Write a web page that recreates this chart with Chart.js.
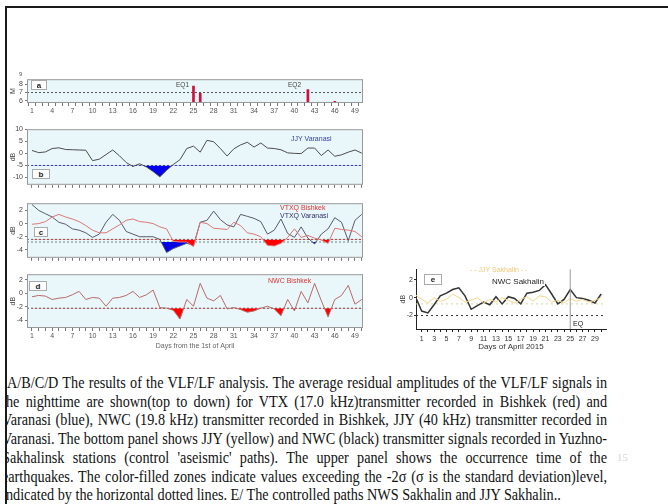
<!DOCTYPE html>
<html><head><meta charset="utf-8">
<script src="https://cdn.jsdelivr.net/npm/chart.js@4.4.0/dist/chart.umd.min.js"></script>
<style>
html,body{margin:0;padding:0;background:#fff;width:668px;height:504px;overflow:hidden;}
#page{position:relative;width:668px;height:504px;overflow:hidden;}
canvas{position:absolute;}
.frame{position:absolute;left:5px;top:6px;width:663px;height:498px;border-left:2px solid #1a1a1a;border-top:2px solid #1a1a1a;box-sizing:border-box;pointer-events:none;}
.lbl{position:absolute;font-family:"Liberation Sans",Arial,sans-serif;white-space:nowrap;line-height:1;}
.plet{position:absolute;background:#fff;border:1px solid #aaa;font:bold 8px "Liberation Sans",Arial,sans-serif;color:#222;text-align:center;line-height:9px;}
#capClip{position:absolute;left:7px;top:370px;width:661px;height:134px;overflow:hidden;}
#capInner{position:absolute;left:-5px;top:0;transform-origin:0 0;}
.cl{position:absolute;left:0;font-family:"Liberation Serif","Times New Roman",serif;font-size:16px;line-height:18px;color:#111;white-space:nowrap;}
</style></head>
<body><div id="page">
<div class="frame"></div>
<div id="capClip"><div id="capInner"></div></div>
</div>
<script>
// ---------------- data ----------------
const days = [1,2,3,4,5,6,7,8,9,10,11,12,13,14,15,16,17,18,19,20,21,22,23,24,25,26,27,28,29,30,31,32,33,34,35,36,37,38,39,40,41,42,43,44,45,46,47,48,49,50];
const tickDaysAD = [1,4,7,10,13,16,19,22,25,28,31,34,37,40,43,46,49];
const eqDays = [25, 26, 42, 46];
const eqMag  = [7.8, 6.9, 7.35, 5.9];
const jjyVaranasi = [1.2,0.3,0.6,2.0,2.3,1.6,1.5,1.4,1.3,-3.0,-2.4,-0.5,1.4,-1.0,-3.8,-5.4,-4.3,-5.6,-7.5,-9.7,-7.0,-4.6,-2.6,2.0,3.0,0.5,5.4,4.8,2.0,-1.1,1.9,3.5,4.6,2.6,4.3,2.2,2.0,1.5,0.2,0.0,-0.1,2.2,2.2,-0.9,1.4,-1.2,-0.6,0.5,1.4,0.1];
const vtxVaranasi = [2.9,2.0,1.5,1.0,0.2,-0.1,-0.8,-1.0,-1.4,-2.1,-1.6,0.2,1.4,0.5,-1.2,-1.6,-2.0,-2.0,-2.0,-2.4,-4.4,-3.8,-3.4,-3.0,-3.3,0.2,0.5,1.9,0.6,-0.2,-0.5,1.4,1.1,0.8,0.3,-1.6,-1.0,0.7,-1.5,-2.1,-0.5,-2.2,-3.1,-1.6,-0.8,0.9,0.2,-2.6,0.5,1.4];
const vtxBishkek  = [-0.1,0.0,0.3,1.0,1.4,1.0,0.7,0.3,-0.3,-1.0,-1.4,-1.4,-0.8,-0.2,0.5,0.7,0.3,0.2,0.0,-0.5,-0.8,-2.7,-2.8,-2.8,-3.5,0.2,0.0,-0.7,-0.8,-0.9,0.2,-0.3,-1.4,-1.6,-2.0,-3.3,-3.4,-3.0,-2.1,-0.8,-2.1,-1.8,-2.2,-2.5,-3.0,-0.7,-0.9,-1.0,-1.2,-2.0];
const nwcBishkek  = [-0.5,-0.3,-0.4,-0.9,-0.7,-0.6,-0.2,0.3,-0.9,-0.6,-0.7,-1.9,-0.7,-0.6,-0.3,0.3,-0.6,-0.2,0.5,-2.1,-2.2,-2.5,-3.8,-0.9,-1.9,1.5,-0.7,-1.1,-0.3,-2.3,-2.1,-2.4,-2.8,-2.6,-2.2,-1.9,-2.3,-3.3,-0.9,-2.6,0.3,-1.4,1.5,-1.1,-3.5,-0.9,-0.3,1.2,-1.6,-0.9];
const daysE = [0,1,2,3,4,5,6,7,8,9,10,11,12,13,14,15,16,17,18,19,20,21,22,23,24,25,26,27,28,29,30];
const tickDaysE = [1,3,5,7,9,11,13,15,17,19,21,23,25,27,29];
const nwcSakhalin = [0.1,-1.5,-1.7,-0.8,0.2,0.5,0.9,1.1,0.2,-1.3,-0.9,-0.5,-0.8,0.1,-0.7,0.1,-0.1,-0.7,0.5,0.6,0.8,1.45,0.4,-0.7,-0.2,0.9,0.0,-0.1,-0.3,-0.6,0.4];
const jjySakhalin = [0.3,-0.2,-0.6,0.0,-0.4,-0.2,0.4,0.0,-0.5,-0.3,0.0,-0.6,-0.2,-0.5,0.0,-0.3,-0.6,-0.2,0.1,-0.4,0.2,0.1,-0.5,-0.3,-0.6,-0.1,-0.4,-0.2,-0.5,-0.3,0.0];
const eqDayE = 25;
const thrA = 7, thrB = -5, thrCred = -2.4, thrCblue = -2.8, thrD = -2.2, thrE = -2, thrEy = -0.7;
const yTicksA = [6,7,8], yTicksB = [-10,-5,0,5,10], yTicksC = [-4,-2,0,2], yTicksD = [-4,-2,0,2], yTicksE = [-2,0,2];

const capLines = [
"A/B/C/D The results of the VLF/LF analysis. The average residual amplitudes of the VLF/LF signals in",
"the nighttime are shown(top to down) for VTX (17.0 kHz)transmitter recorded in Bishkek (red) and",
"Varanasi (blue), NWC (19.8 kHz) transmitter recorded in Bishkek, JJY (40 kHz) transmitter recorded in",
"Varanasi. The bottom panel shows JJY (yellow) and NWC (black) transmitter signals recorded in Yuzhno-",
"Sakhalinsk stations (control 'aseismic' paths). The upper panel shows the occurrence time of the",
"earthquakes. The color-filled zones indicate values exceeding the -2\u03c3 (\u03c3 is the standard deviation)level,",
"indicated by the horizontal dotted lines. E/ The controlled paths NWS Sakhalin and JJY Sakhalin.."
];

// ---------------- helpers ----------------
const F = "'Liberation Sans', Arial, sans-serif";
const page = document.getElementById('page');
const xy = (xs, ys) => xs.map((x,i)=>({x:x, y:ys[i]}));
function hline(xmin,xmax,v,color,dash){
  return {type:'line',data:[{x:xmin,y:v},{x:xmax,y:v}],borderColor:color,borderWidth:1,borderDash:dash||[2,2],pointRadius:0,fill:false,order:5};
}
function series(xs, ys, color, thr, fillColor, w){
  const d = {type:'line',data:xy(xs,ys),borderColor:color,borderWidth:w||1,pointRadius:0,tension:0,order:1};
  if (thr !== undefined) d.fill = {target:{value:thr},above:'rgba(0,0,0,0)',below:fillColor};
  else d.fill = false;
  return d;
}
function boxPlugin(bg, stroke){
  return {id:'box'+Math.random(),
    beforeDraw(c){const a=c.chartArea,ctx=c.ctx;ctx.save();ctx.fillStyle=bg;ctx.fillRect(a.left,a.top,a.right-a.left,a.bottom-a.top);ctx.restore();},
    afterDraw(c){if(!stroke)return;const a=c.chartArea,ctx=c.ctx;ctx.save();ctx.strokeStyle=stroke;ctx.lineWidth=1;ctx.strokeRect(a.left+0.5,a.top+0.5,a.right-a.left-1,a.bottom-a.top-1);ctx.restore();}
  };
}
function buildChart(o){
  const cv=document.createElement('canvas');
  const W=o.R-o.L+o.yW+o.pr, H=o.B-o.T+o.pt+o.xH;
  cv.width=W; cv.height=H;
  cv.style.left=(o.L-o.yW)+'px'; cv.style.top=(o.T-o.pt)+'px';
  cv.style.width=W+'px'; cv.style.height=H+'px';
  page.appendChild(cv);
  new Chart(cv,{type:'line',data:{datasets:o.datasets},options:{
    responsive:false,animation:false,devicePixelRatio:1,
    layout:{padding:{left:0,right:o.pr,top:o.pt,bottom:0}},
    plugins:{legend:{display:false},tooltip:{enabled:false}},
    scales:{
      x:{type:'linear',min:o.xmin,max:o.xmax,offset:false,
        afterBuildTicks:s=>{s.ticks=o.xTicks.map(v=>({value:v}));},
        afterFit:s=>{s.height=o.xH;},
        grid:{drawOnChartArea:false,drawTicks:true,tickLength:o.tickLen||3,color:o.axisColor||'#777'},
        border:{display:!!o.axisBorder,color:o.axisBorder||'#000',width:1},
        ticks:{autoSkip:false,maxRotation:0,padding:o.xPad||1,font:{size:7,family:F},color:o.tickColor||'#555',
          callback:v=>(o.xLabels&&o.xLabels.includes(v))?String(v):''},
        title:o.xTitle?{display:true,text:o.xTitle,font:{size:o.xTitleSize||7,family:F},color:o.xTitleColor||'#666',padding:{top:0,bottom:0}}:{display:false}
      },
      y:{min:o.ymin,max:o.ymax,
        afterBuildTicks:s=>{s.ticks=o.yTicks.map(v=>({value:v}));},
        afterFit:s=>{s.width=o.yW;},
        grid:{drawOnChartArea:false,tickLength:2,color:o.axisColor||'#777'},
        border:{display:!!o.axisBorder,color:o.axisBorder||'#000',width:1},
        ticks:{font:{size:7,family:F},color:o.tickColor||'#444',padding:o.yPad||2},
        title:{display:true,text:o.yTitle,font:{size:7,family:F},color:'#444',padding:{top:o.yTitlePad||9,bottom:0}}
      }
    }},
    plugins:[boxPlugin(o.bg,o.stroke)]
  });
}

const BG = '#eaf7fa';
const X0 = 0.26, X1 = 50.19;

// panel a
buildChart({L:27,R:363,T:77,B:103,yW:27,pr:3,pt:4,xH:14,xmin:X0,xmax:X1,ymin:5.7,ymax:8.65,
  xTicks:days,xLabels:tickDaysAD,yTicks:yTicksA,yTitle:'M',bg:BG,stroke:'#999',
  datasets:[
    {type:'bar',data:xy(eqDays,eqMag),backgroundColor:'#d0103a',barThickness:2,order:2},
    hline(X0,X1,thrA,'#555')
  ]});
// panel b
buildChart({L:27,R:363,T:127,B:187,yW:27,pr:3,pt:4,xH:4,xmin:X0,xmax:X1,ymin:-13,ymax:10,
  xTicks:days,xLabels:null,yTicks:yTicksB,yTitle:'dB',bg:BG,stroke:'#999',
  datasets:[
    series(days,jjyVaranasi,'#4d4d4d',thrB,'#0000ee'),
    hline(X0,X1,thrB,'#555')
  ]});
// panel c
buildChart({L:27,R:363,T:201,B:260,yW:27,pr:3,pt:4,xH:4,xmin:X0,xmax:X1,ymin:-5.2,ymax:3.1,
  xTicks:days,xLabels:null,yTicks:yTicksC,yTitle:'dB',bg:BG,stroke:'#999',
  datasets:[
    series(days,vtxBishkek,'#de7676',thrCred,'#ff0000'),
    series(days,vtxVaranasi,'#5a5a68',thrCblue,'#0000e6'),
    hline(X0,X1,thrCred,'#666'),
    hline(X0,X1,thrCblue,'#6a8a7a')
  ]});
// panel d
buildChart({L:27,R:363,T:272,B:328,yW:27,pr:3,pt:4,xH:22,xmin:X0,xmax:X1,ymin:-5.14,ymax:2.86,
  xTicks:days,xLabels:tickDaysAD,yTicks:yTicksD,yTitle:'dB',bg:BG,stroke:'#999',
  xTitle:'Days from the 1st of April',
  datasets:[
    series(days,nwcBishkek,'#b86a6a',thrD,'#ff0000'),
    hline(X0,X1,thrD,'#555')
  ]});
// panel e
buildChart({L:416,R:606,T:268,B:329,yW:20,pr:3,pt:4,xH:23,xmin:0.08,xmax:30.78,ymin:-3.5,ymax:3.17,
  xTicks:daysE.filter(d=>d>=1),xLabels:tickDaysE,yTicks:yTicksE,yTitle:'dB',yTitlePad:3,yPad:1,xPad:3,
  bg:'#ffffff',stroke:null,axisBorder:'#222',axisColor:'#222',tickColor:'#333',
  xTitle:'Days of April 2015',xTitleSize:8,xTitleColor:'#333',
  datasets:[
    series(daysE,jjySakhalin,'#f3d68c',undefined,undefined,1),
    hline(0.08,30.78,thrEy,'#d8d8a0',[2,3]),
    series(daysE,nwcSakhalin,'#333333',undefined,undefined,1.5),
    hline(0.08,30.78,thrE,'#333',[2,3]),
    {type:'line',data:[{x:eqDayE,y:-3.5},{x:eqDayE,y:3.17}],borderColor:'#999',borderWidth:1,pointRadius:0,fill:false}
  ]});

// ---------------- text overlays ----------------
function lbl(t,l,tp,size,color,extra){
  const d=document.createElement('div');d.className='lbl';d.textContent=t;
  d.style.left=l+'px';d.style.top=tp+'px';d.style.fontSize=size+'px';d.style.color=color;
  if(extra)Object.assign(d.style,extra);page.appendChild(d);return d;
}
function plet(t,l,tp,w,h){
  const d=document.createElement('div');d.className='plet';d.textContent=t;
  d.style.left=l+'px';d.style.top=tp+'px';d.style.width=w+'px';d.style.height=h+'px';page.appendChild(d);
}
lbl('9',19,71,6,'#555');
plet('a',31,80,14,8);
lbl('EQ1',176,82,6.5,'#444');
lbl('EQ2',288,82,6.5,'#444');
plet('b',32,169,16,8);
lbl('JJY Varanasi',291,135,7,'#3344aa');
plet('c',34,227,12,8);
lbl('VTXQ Bishkek',280,204,7,'#e03030');
lbl('VTXQ Varanasi',280,212,7,'#303068');
plet('d',29,281,16,8);
lbl('NWC Bishkek',268,277,7,'#e03030');
plet('e',424,274,16,9);
lbl('- - JJY Sakhalin - -',470,266,7,'#f0c878');
lbl('NWC Sakhalin',491,278,8,'#222',{background:'#fff',padding:'0 1px'});
lbl('EQ',573,320,7,'#222');
lbl('15',617,452,11,'#d4d4d4',{fontFamily:'"Liberation Serif",serif'});

// caption
const inner=document.getElementById('capInner');
const LH=18.7, TOP0=4;
const els=capLines.map((t,i)=>{const d=document.createElement('div');d.className='cl';d.textContent=t;d.style.top=(TOP0+i*LH)+'px';inner.appendChild(d);return d;});
let maxW=0;
els.forEach((d,i)=>{if(i<els.length-1)maxW=Math.max(maxW,d.getBoundingClientRect().width+(i===0?6:0));});
const S=605/(maxW+2);
els.forEach((d,i)=>{
  d.style.whiteSpace='normal';
  if(i===0){d.style.left=(5/S)+'px';d.style.width=(maxW+2-5/S)+'px';}
  else d.style.width=(maxW+2)+'px';
  if(i<els.length-1){d.style.textAlign='justify';d.style.textAlignLast='justify';}
});
inner.style.transform='scaleX('+S+')';
</script>
</body></html>
